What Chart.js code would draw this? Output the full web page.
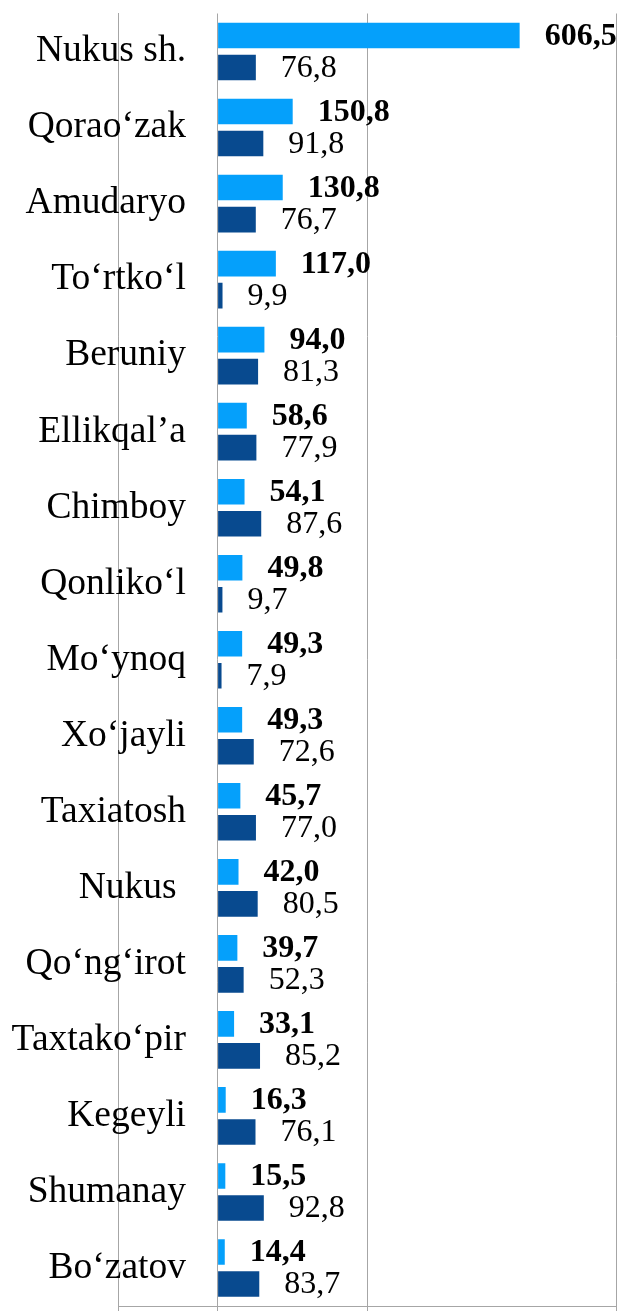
<!DOCTYPE html>
<html>
<head>
<meta charset="utf-8">
<script src="https://cdn.jsdelivr.net/npm/chart.js@4"></script>
<style>
  html, body { margin: 0; padding: 0; background: #fff; }
  canvas { display: block; }
</style>
</head>
<body>
<canvas id="c1" width="618" height="1311"></canvas>
<script>
// categories (districts)
const districts = [
    'Nukus sh.', 'Qorao‘zak', 'Amudaryo', 'To‘rtko‘l', 'Beruniy', 'Ellikqal’a',
    'Chimboy', 'Qonliko‘l', 'Mo‘ynoq', 'Xo‘jayli', 'Taxiatosh', 'Nukus ',
    'Qo‘ng‘irot', 'Taxtako‘pir', 'Kegeyli', 'Shumanay', 'Bo‘zatov'
];

// first series (light blue, bold labels)
const seriesA = [606.5, 150.8, 130.8, 117.0, 94.0, 58.6, 54.1, 49.8, 49.3, 49.3, 45.7, 42.0, 39.7, 33.1, 16.3, 15.5, 14.4];
// second series (dark blue)
const seriesB = [76.8, 91.8, 76.7, 9.9, 81.3, 77.9, 87.6, 9.7, 7.9, 72.6, 77.0, 80.5, 52.3, 85.2, 76.1, 92.8, 83.7];

// value axis range and the gridline values seen in the picture
const axisMin = -200;
const axisMax = 800;
const gridValues = [-200, 0, 300, 800];

const serif = "'Liberation Serif', 'Times New Roman', serif";
const catFontSize = 37.5;

function fmt(v) {
    return v.toFixed(1).replace('.', ',');
}

// category labels sit inside the plot, right edge 68px right of the axis line
const mctx = document.createElement('canvas').getContext('2d');
mctx.font = catFontSize + 'px ' + serif;
const widest = Math.max(...districts.map(d => mctx.measureText(d).width));
const labelPad = 68 - widest;

// value labels drawn next to each bar end
const barLabels = {
    id: 'barLabels',
    afterDatasetsDraw(chart) {
        const ctx = chart.ctx;
        ctx.save();
        ctx.fillStyle = '#000';
        ctx.textAlign = 'left';
        ctx.textBaseline = 'middle';
        chart.data.datasets.forEach((ds, i) => {
            const meta = chart.getDatasetMeta(i);
            ctx.font = (i === 0 ? 'bold ' : '') + '32px ' + serif;
            meta.data.forEach((bar, j) => {
                ctx.fillText(fmt(ds.data[j]), bar.x + 25, bar.y + 1);
            });
        });
        ctx.restore();
    }
};

const ctx = document.getElementById('c1').getContext('2d');

const myChart = new Chart(ctx, {
    type: 'bar',
    data: {
        labels: districts,
        datasets: [{
            data: seriesA,
            backgroundColor: '#05A0FB',
            borderWidth: 0,
            barPercentage: 0.8,
            categoryPercentage: 0.842
        }, {
            data: seriesB,
            backgroundColor: '#084A8F',
            borderWidth: 0,
            barPercentage: 0.8,
            categoryPercentage: 0.842
        }]
    },
    options: {
        indexAxis: 'y',
        responsive: false,
        animation: false,
        layout: {
            padding: { top: 13.5, right: 2, bottom: 0, left: 0 }
        },
        plugins: {
            legend: { display: false },
            tooltip: { enabled: false }
        },
        scales: {
            x: {
                type: 'linear',
                min: axisMin,
                max: axisMax,
                afterBuildTicks: (scale) => {
                    scale.ticks = gridValues.map(v => ({ value: v }));
                },
                grid: {
                    color: '#a6a6a6',
                    lineWidth: 1,
                    drawTicks: true,
                    tickLength: 5
                },
                border: { display: true, color: '#a6a6a6', width: 1 },
                ticks: { display: false }
            },
            y: {
                afterFit: (scale) => {
                    scale.width = 118;
                },
                grid: { display: false, drawTicks: false },
                border: { display: true, color: '#a6a6a6', width: 1 },
                ticks: {
                    mirror: true,
                    crossAlign: 'far',
                    padding: labelPad,
                    color: '#000',
                    font: { family: serif, size: catFontSize }
                }
            }
        }
    },
    plugins: [barLabels]
});
</script>
</body>
</html>
